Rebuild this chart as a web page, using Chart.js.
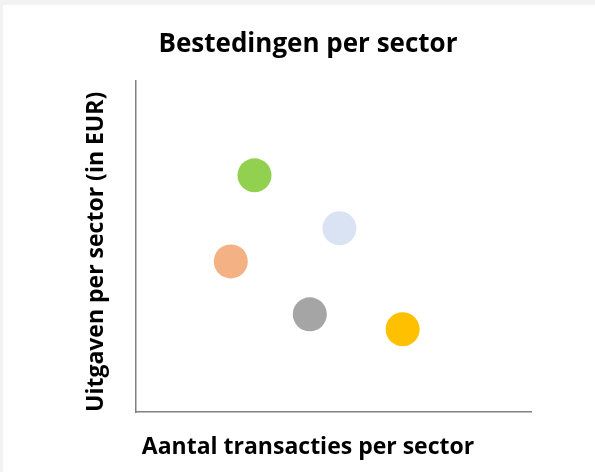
<!DOCTYPE html>
<html>
<head>
<meta charset="utf-8">
<script src="https://cdn.jsdelivr.net/npm/chart.js@4"></script>
<style>
    html, body { margin: 0; padding: 0; background: #f2f2f2; }
    #card { position: absolute; left: 3px; top: 5px; width: 592px; height: 467px; background: #ffffff; }
</style>
</head>
<body>
<div id="card"><canvas id="sectorChart" width="592" height="467"></canvas></div>
<script>
// Sectors (no names shown on the chart, only colours)
const sectorColors = ['#92d050', '#dae3f3', '#f4b183', '#a5a5a5', '#ffc000'];
const transactions = [3.0, 5.15, 2.4, 4.4, 6.75];
const spending = [7.15, 5.55, 4.55, 2.95, 2.5];

const chartTitle = 'Bestedingen per sector';
const xTitle = 'Aantal transacties per sector';
const yTitle = 'Uitgaven per sector (in EUR)';

const axisColor = '#808080';
const fontFamily = "'Open Sans', sans-serif";

const points = transactions.map((x, i) => ({ x: x, y: spending[i] }));

new Chart(document.getElementById('sectorChart'), {
    type: 'scatter',
    data: {
        datasets: [{
            data: points,
            backgroundColor: sectorColors,
            borderWidth: 0,
            pointRadius: 17,
            pointHoverRadius: 17,
        }]
    },
    options: {
        responsive: false,
        animation: false,
        events: [],
        layout: { padding: { left: 82, right: 64, top: 10, bottom: 6 } },
        plugins: {
            legend: { display: false },
            tooltip: { enabled: false },
            title: {
                display: true,
                text: chartTitle,
                color: '#000000',
                font: { family: fontFamily, size: 26, weight: 'bold', lineHeight: 1.2 },
                padding: { top: 14, bottom: 20.8 }
            },
            // x axis label, kept below the plot and centred like the title
            subtitle: {
                display: true,
                position: 'bottom',
                text: xTitle,
                color: '#000000',
                font: { family: fontFamily, size: 23, weight: 'bold', lineHeight: 1.2 },
                padding: { top: 21.2, bottom: 5.2 }
            }
        },
        scales: {
            x: {
                min: 0,
                max: 10,
                grid: { display: false, drawTicks: false },
                border: { display: true, color: axisColor, width: 1.5 },
                ticks: { display: false }
            },
            y: {
                min: 0,
                max: 10,
                grid: { display: false, drawTicks: false },
                border: { display: true, color: axisColor, width: 1.5 },
                ticks: { display: false },
                title: {
                    display: true,
                    text: yTitle,
                    align: 'start',
                    color: '#000000',
                    font: { family: fontFamily, size: 23, weight: 'bold', lineHeight: 1 },
                    padding: { top: 0, bottom: 28 }
                }
            }
        }
    }
});
</script>
</body>
</html>
